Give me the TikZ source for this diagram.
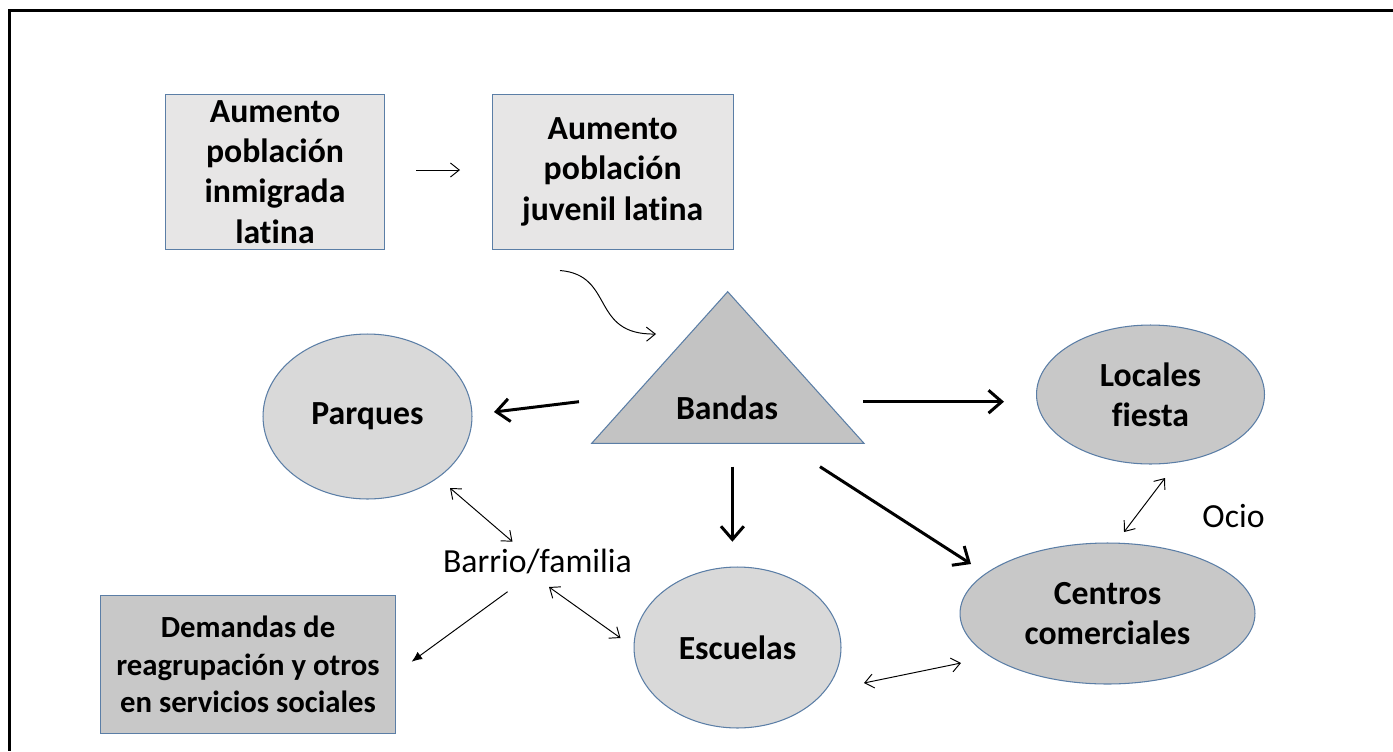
\documentclass[tikz,border=0pt]{standalone}
\usepackage{fontspec}
\setmainfont{Carlito}[Ligatures=NoCommon]
\usetikzlibrary{arrows.meta,shapes.geometric}
\definecolor{edgeblue}{HTML}{5B7EA6}
\definecolor{lightfill}{HTML}{E7E6E6}
\definecolor{midfill}{HTML}{D9D9D9}
\definecolor{darkfill}{HTML}{C8C8C8}
\definecolor{trifill}{HTML}{C3C3C3}
\tikzset{
  txt/.style={font=\fontsize{19.2}{23}\selectfont\bfseries, align=center, text=black},
  smalltxt/.style={font=\fontsize{17.5}{21.3}\selectfont\bfseries},
  plain/.style={font=\fontsize{19.2}{23}\selectfont, text=black},
  boxnode/.style={txt, draw=edgeblue, line width=0.6pt, rectangle, inner sep=0pt},
  ellnode/.style={txt, draw=edgeblue, line width=0.6pt, ellipse, inner sep=0pt},
  thinarrow/.style={line width=0.55pt, -{Straight Barb[length=5pt,width=8pt]}},
  dblarrow/.style={line width=0.55pt, {Straight Barb[length=5pt,width=8pt]}-{Straight Barb[length=5pt,width=8pt]}},
  thickarrow/.style={line width=1.7pt, -{Straight Barb[length=7.5pt,width=13pt]}},
  fillarrow/.style={line width=0.55pt, -{Latex[length=6pt,width=5pt]}}
}
\begin{document}
\begin{tikzpicture}[x=0.02cm, y=-0.02cm]
\useasboundingbox (0,0) rectangle (1393,751);
% frame
\draw[line width=1.6pt, black] (1393,10.5) -- (9.5,10.5) -- (9.5,751);

% boxes
\node[boxnode, fill=lightfill, minimum width=4.366cm, minimum height=3.10cm] (box1) at (275,171.8)
  {Aumento\\población\\inmigrada\\latina};
\node[boxnode, fill=lightfill, minimum width=4.82cm, minimum height=3.10cm] (box2) at (612.7,171.8)
  {Aumento\\población\\juvenil latina};
\node[boxnode, smalltxt, fill=darkfill, minimum width=5.89cm, minimum height=2.77cm] (dem) at (248,664.5)
  {Demandas de\\reagrupación y otros\\en servicios sociales};

% triangle
\path[draw=edgeblue, line width=0.6pt, fill=trifill] (727.7,291.7) -- (864,443.3) -- (591.7,443.3) -- cycle;
\node[txt] (bandas) at (727,408) {Bandas};

% ellipses
\node[ellnode, fill=midfill, minimum width=4.18cm, minimum height=3.30cm] (parques) at (367.5,416.5) {Parques};
\node[ellnode, fill=midfill, minimum width=4.14cm, minimum height=3.22cm] (escuelas) at (737.5,647.5) {Escuelas};
\node[ellnode, fill=darkfill, minimum width=4.56cm, minimum height=2.78cm] (locales) at (1150.5,394.5) {Locales\\fiesta};
\node[ellnode, fill=darkfill, minimum width=5.90cm, minimum height=2.82cm] (centros) at (1107.5,613.5) {Centros\\comerciales};

% plain labels
\node[plain] (barrio) at (537.5,561) {Barrio/familia};
\node[plain] (ocio) at (1233.5,516) {Ocio};

% connector end points
\coordinate (a1s) at (416,170);   \coordinate (a1e) at (460,170);
\coordinate (cs) at (560,270.5);  \coordinate (ce) at (656,334);
\coordinate (bp1) at (579,401.7); \coordinate (bp2) at (494,412);
\coordinate (bl1) at (863,401.7); \coordinate (bl2) at (1004,401.7);
\coordinate (be1) at (732.4,466.7); \coordinate (be2) at (732.4,541.7);
\coordinate (bc1) at (820,466.7); \coordinate (bc2) at (971,564);
\coordinate (lc1) at (1165,478); \coordinate (lc2) at (1124,532);
\coordinate (ec1) at (864,683); \coordinate (ec2) at (961,663);
\coordinate (pb1) at (450,488); \coordinate (pb2) at (512.5,541.7);
\coordinate (bs1) at (549,587); \coordinate (bs2) at (620.5,638);
\coordinate (bd1) at (507.6,591.7); \coordinate (bd2) at (411.6,661.7);

% connectors
\draw[thinarrow] (a1s) -- (a1e);
\draw[thinarrow] (cs) .. controls (615,275) and (590,335) .. (ce);
\draw[thickarrow] (bp1) -- (bp2);
\draw[thickarrow] (bl1) -- (bl2);
\draw[thickarrow] (be1) -- (be2);
\draw[thickarrow] (bc1) -- (bc2);
\draw[dblarrow] (lc1) -- (lc2);
\draw[dblarrow] (ec1) -- (ec2);
\draw[dblarrow] (pb1) -- (pb2);
\draw[dblarrow] (bs1) -- (bs2);
\draw[fillarrow] (bd1) -- (bd2);
\end{tikzpicture}
\end{document}
